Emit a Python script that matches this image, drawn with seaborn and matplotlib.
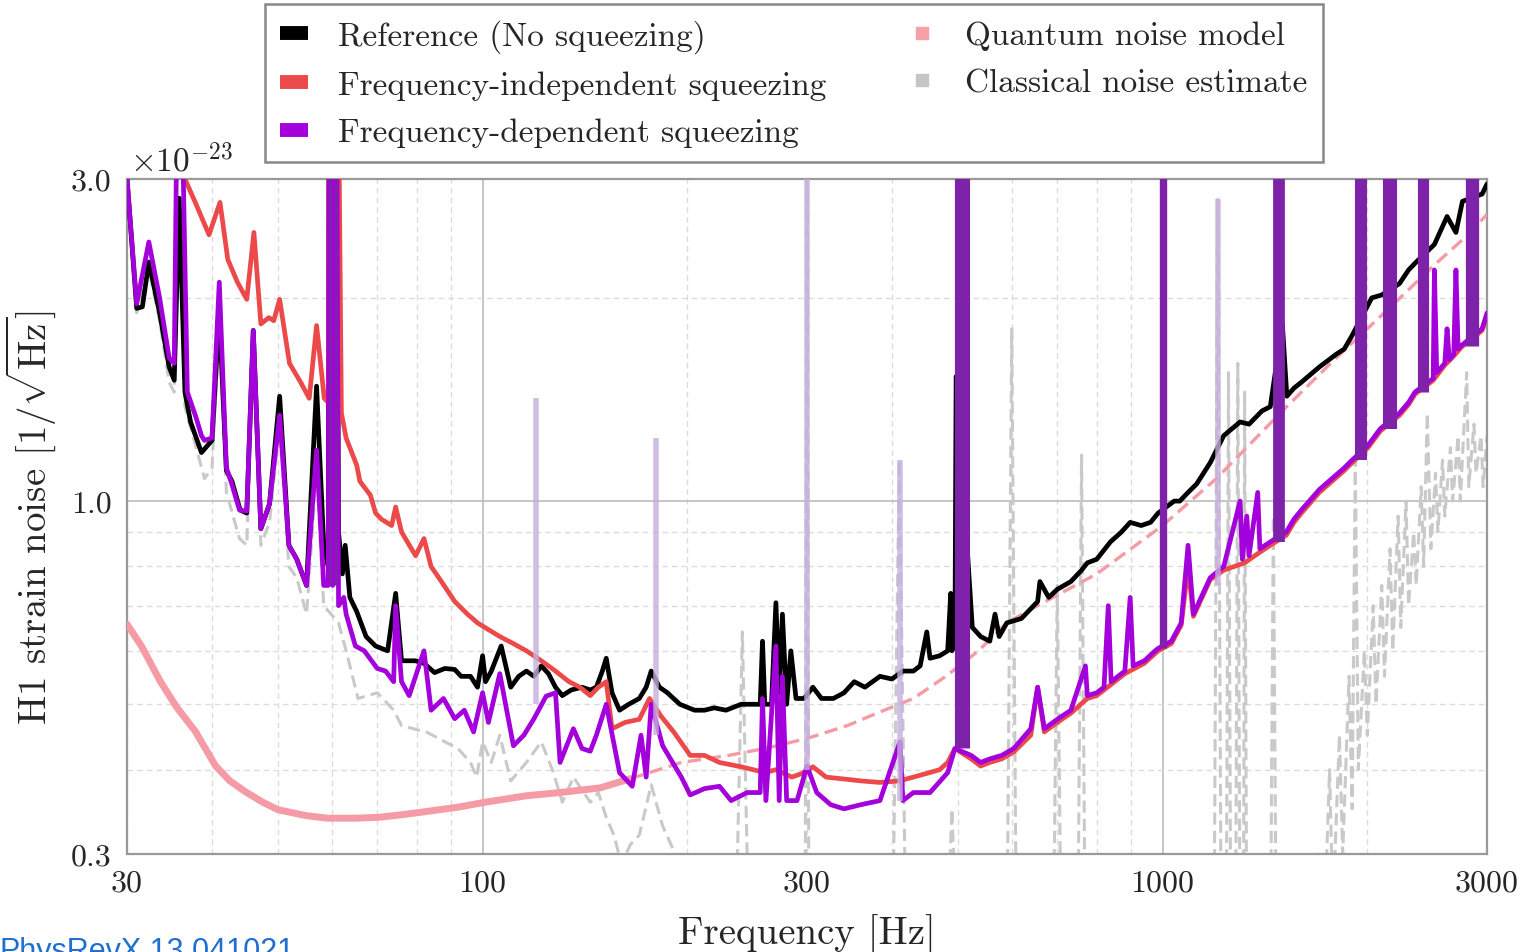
import numpy as np
import pandas as pd
import matplotlib
matplotlib.use("Agg")
import matplotlib.pyplot as plt
import seaborn as sns
from matplotlib.lines import Line2D
from matplotlib.ticker import FixedLocator, FixedFormatter, NullFormatter

# ---------------- data (frequency in Hz, strain in units of 1e-23 /sqrt(Hz)) ----------------
ref_f = [30, 31, 31.6, 32.3, 33.5, 34.6, 35.2, 35.8, 36.5, 37.2,
         38.6, 40.0, 41.0, 42.0, 42.8, 44.0, 45.0, 46.0, 47.2, 48.6,
         50.3, 51.9, 53.3, 55.1, 57.0, 58.4, 59.3, 59.6, 60.2, 60.8,
         61.4, 62.2, 62.8, 63.8, 65.3, 67.4, 69.6, 72.5, 74.5, 76,
         79.6, 82, 85, 88, 91, 93, 96, 98.3, 100, 101,
         103, 106.5, 110, 113, 116, 119, 122, 125, 128, 131,
         135, 140, 144, 147, 150, 152, 155, 159, 164, 170,
         174, 177, 182, 187, 195, 205, 212, 219, 228, 240,
         250, 256, 258, 260, 266, 270, 273, 276, 280, 284,
         289, 297, 306, 315, 328, 340, 352, 365, 384, 400,
         415, 430, 440, 450, 455, 470, 483, 488, 490, 495,
         497, 525, 540, 557, 567, 575, 590, 620, 655, 660,
         680, 700, 733, 760, 775, 800, 838, 870, 896, 930,
         960, 985, 1040, 1060, 1090, 1122, 1175, 1230, 1300, 1340,
         1400, 1440, 1500, 1523, 1560, 1600, 1700, 1800, 1850, 1900,
         2030, 2100, 2230, 2300, 2360, 2510, 2620, 2700, 2760, 2950,
         3000]
ref_v = [3.0, 1.93, 1.94, 2.26, 1.9, 1.58, 1.51, 2.81, 1.45, 1.31,
         1.18, 1.23, 1.9, 1.11, 1.07, 0.97, 0.96, 1.79, 0.91, 0.99,
         1.43, 0.86, 0.82, 0.75, 1.48, 0.86, 0.8, 12, 0.8, 12,
         0.9, 0.78, 0.86, 0.72, 0.686, 0.63, 0.61, 0.60, 0.73, 0.58,
         0.58, 0.575, 0.557, 0.565, 0.563, 0.55, 0.55, 0.53, 0.59, 0.54,
         0.56, 0.61, 0.53, 0.55, 0.56, 0.55, 0.57, 0.555, 0.53, 0.515,
         0.525, 0.53, 0.525, 0.53, 0.56, 0.585, 0.52, 0.49, 0.5, 0.51,
         0.53, 0.56, 0.53, 0.52, 0.5, 0.49, 0.49, 0.494, 0.49, 0.50,
         0.5, 0.5, 0.62, 0.5, 0.5, 0.707, 0.52, 0.68, 0.5, 0.6,
         0.51, 0.51, 0.53, 0.51, 0.51, 0.52, 0.54, 0.53, 0.55, 0.545,
         0.56, 0.56, 0.57, 0.64, 0.585, 0.59, 0.60, 0.73, 0.6, 0.62,
         1.53, 0.65, 0.63, 0.62, 0.68, 0.63, 0.66, 0.67, 0.71, 0.76,
         0.72, 0.74, 0.76, 0.79, 0.81, 0.82, 0.87, 0.9, 0.93, 0.92,
         0.93, 0.96, 1.0, 1.0, 1.03, 1.06, 1.14, 1.25, 1.31, 1.3,
         1.36, 1.38, 1.83, 1.43, 1.47, 1.5, 1.58, 1.65, 1.68, 1.76,
         2.0, 2.02, 2.1, 2.2, 2.26, 2.4, 2.64, 2.5, 2.78, 2.85,
         2.95]

fis_f = [35.5, 36.5, 37.8, 39.6, 41.1, 42.2, 43.6, 45, 46.1, 47.2,
         48.5, 49.3, 50.3, 52, 54, 55.6, 57, 58.5, 59.3, 59.6,
         60.2, 60.8, 62, 63, 65.3, 66, 68.4, 69.6, 71, 73.5,
         74.5, 76, 79.7, 82, 84, 86.6, 91, 95, 98.3, 102,
         106, 111, 116, 122, 128, 134, 139, 144, 148, 152,
         155, 162, 170, 176, 183, 191, 202, 212, 223, 240,
         250, 260, 270, 285, 295, 306, 320, 344, 360, 384,
         410, 430, 450, 470, 483, 495, 523, 540, 557, 580,
         604, 640, 655, 670, 700, 733, 775, 800, 840, 880,
         940, 985, 1030, 1065, 1090, 1110, 1175, 1230, 1320, 1390,
         1440, 1520, 1560, 1600, 1700, 1850, 1900, 2005, 2090, 2230,
         2300, 2350, 2500, 2600, 2680, 2750, 2950, 3000]
fis_v = [3.5, 3.0, 2.77, 2.48, 2.77, 2.28, 2.11, 1.99, 2.5, 1.83,
         1.87, 1.85, 1.99, 1.6, 1.5, 1.42, 1.82, 1.42, 1.4, 12,
         1.4, 12, 1.35, 1.24, 1.13, 1.07, 1.02, 0.96, 0.94, 0.92,
         0.98, 0.9, 0.83, 0.88, 0.8, 0.765, 0.71, 0.68, 0.66, 0.645,
         0.63, 0.615, 0.60, 0.58, 0.56, 0.54, 0.53, 0.515, 0.53, 0.54,
         0.46, 0.47, 0.475, 0.51, 0.48, 0.455, 0.42, 0.42, 0.41, 0.404,
         0.40, 0.396, 0.40, 0.39, 0.395, 0.404, 0.39, 0.387, 0.385, 0.383,
         0.385, 0.39, 0.395, 0.40, 0.41, 0.43, 0.415, 0.405, 0.41, 0.415,
         0.425, 0.45, 0.53, 0.455, 0.47, 0.485, 0.51, 0.515, 0.535, 0.555,
         0.575, 0.6, 0.615, 0.655, 0.8, 0.675, 0.765, 0.79, 0.81, 0.84,
         0.86, 0.89, 0.93, 0.96, 1.03, 1.11, 1.14, 1.2, 1.27, 1.34,
         1.39, 1.44, 1.51, 1.59, 1.64, 1.69, 1.79, 1.88]

fds_f = [30, 31, 32.3, 33.5, 34.6, 35.2, 35.5, 36.2, 36.8, 37.9,
         38.6, 39.0, 40, 41.0, 42, 42.7, 43.9, 45, 46, 47.2,
         48.6, 50.3, 51.9, 53.3, 55.1, 57, 58.4, 59.3, 59.6, 60.2,
         60.8, 61.4, 62.5, 63, 65, 67, 70, 72, 74, 74.5,
         76, 78, 82, 84, 87.6, 91, 94, 97, 100, 102,
         106, 111, 115, 119, 124, 128, 130, 136, 140, 144,
         147, 152, 159, 166, 171, 174, 177, 184, 196, 202,
         212, 223, 232, 245, 256, 258, 261, 270, 273, 276,
         280, 290, 300, 310, 325, 340, 360, 384, 411, 415,
         430, 455, 483, 495, 523, 540, 557, 580, 604, 640,
         655, 670, 700, 733, 770, 775, 800, 820, 832, 840,
         880, 896, 905, 940, 975, 985, 1030, 1065, 1090, 1110,
         1175, 1230, 1300, 1310, 1330, 1340, 1380, 1390, 1440, 1520,
         1560, 1600, 1700, 1850, 1900, 2005, 2090, 2230, 2300, 2350,
         2500, 2510, 2530, 2600, 2620, 2640, 2680, 2700, 2720, 2750,
         2950, 3000]
fds_v = [3.0, 1.96, 2.42, 2.0, 1.63, 1.6, 3.5, 3.5, 1.45, 1.33,
         1.25, 1.23, 1.24, 2.11, 1.12, 1.066, 0.97, 0.966, 1.79, 0.91,
         0.99, 1.34, 0.86, 0.82, 0.75, 1.19, 0.75, 0.75, 12, 0.75,
         12, 0.70, 0.72, 0.68, 0.61, 0.6, 0.565, 0.56, 0.54, 0.70,
         0.54, 0.515, 0.60, 0.49, 0.51, 0.476, 0.49, 0.455, 0.52, 0.47,
         0.555, 0.434, 0.45, 0.476, 0.514, 0.52, 0.41, 0.46, 0.43, 0.426,
         0.45, 0.50, 0.396, 0.378, 0.45, 0.39, 0.50, 0.434, 0.39, 0.367,
         0.375, 0.378, 0.36, 0.37, 0.37, 0.51, 0.36, 0.61, 0.36, 0.55,
         0.36, 0.36, 0.405, 0.37, 0.355, 0.35, 0.355, 0.36, 0.44, 0.36,
         0.37, 0.37, 0.396, 0.43, 0.42, 0.41, 0.415, 0.42, 0.43, 0.46,
         0.53, 0.46, 0.475, 0.49, 0.57, 0.515, 0.52, 0.53, 0.70, 0.54,
         0.56, 0.72, 0.57, 0.58, 0.60, 0.605, 0.62, 0.66, 0.86, 0.68,
         0.77, 0.8, 1.0, 0.82, 0.95, 0.83, 1.03, 0.85, 0.87, 0.90,
         0.94, 0.97, 1.04, 1.12, 1.15, 1.21, 1.28, 1.35, 1.4, 1.45,
         1.52, 2.2, 1.55, 1.6, 1.8, 1.62, 1.65, 2.2, 1.68, 1.7,
         1.8, 1.9]

# quantum noise model: low-frequency (solid) and high-frequency (dashed) parts
qn_lo_f = [30, 31.5, 33.6, 35.5, 37.8, 40.5, 42.5, 44.8, 47.5, 50, 55,
           59.2, 65, 70.3, 76, 83, 92, 100.9, 116, 130, 149, 165]
qn_lo_v = [0.657, 0.61, 0.54, 0.495, 0.456, 0.405, 0.385, 0.371, 0.358, 0.349, 0.342,
           0.339, 0.339, 0.340, 0.343, 0.347, 0.352, 0.358, 0.366, 0.37, 0.376, 0.388]
qn_hi_f = [165, 196, 230, 260, 300, 344, 380, 430, 480, 536, 590,
           655, 800, 1000, 1200, 1500, 1800, 2000, 2200, 2500, 2800, 3000]
qn_hi_v = [0.388, 0.41, 0.42, 0.43, 0.445, 0.465, 0.485, 0.51, 0.55, 0.6, 0.66,
           0.70, 0.78, 0.92, 1.08, 1.36, 1.63, 1.8, 1.97, 2.23, 2.47, 2.66]

# classical noise estimate
cl_f = [30, 31, 32.3, 33.5, 34.6, 35.2, 35.8, 36.5, 37.9, 39.0,
        40, 41, 42, 43.9, 45, 46, 47.2, 48.6, 50.3, 51.9,
        53.3, 55.1, 57, 58.4, 61.4, 63, 65.6, 70, 74, 76,
        83, 88, 92, 96, 98, 100, 103, 106, 110, 116,
        122, 127, 131, 136, 144, 148, 152, 156, 160, 165,
        170, 177, 184, 195, 205, 215, 235, 241, 247, 290,
        298, 300, 302, 310, 400, 410, 420, 480, 490, 500,
        590, 600, 610, 690, 700, 710, 750, 760, 770, 1000,
        1010, 1190, 1205, 1220, 1240, 1250, 1260, 1280, 1290, 1300,
        1315, 1320, 1330, 1440, 1455, 1470, 1650, 1700, 1720, 1760,
        1780, 1820, 1840, 1880, 1900, 1920, 1940, 1980, 2000, 2040,
        2060, 2100, 2120, 2160, 2180, 2220, 2240, 2280, 2300, 2340,
        2360, 2400, 2420, 2450, 2480, 2520, 2540, 2580, 2600, 2650,
        2670, 2720, 2740, 2800, 2820, 2870, 2890, 2940, 2960, 3000]
cl_v = [3.0, 1.9, 2.2, 1.85, 1.5, 1.45, 2.7, 1.38, 1.2, 1.08,
        1.12, 1.8, 1.03, 0.88, 0.86, 1.7, 0.86, 0.93, 1.3, 0.8,
        0.77, 0.68, 1.1, 0.7, 0.66, 0.6, 0.51, 0.52, 0.49, 0.465,
        0.454, 0.44, 0.43, 0.41, 0.39, 0.44, 0.41, 0.45, 0.385, 0.41,
        0.44, 0.397, 0.358, 0.39, 0.358, 0.37, 0.34, 0.32, 0.29, 0.31,
        0.32, 0.38, 0.33, 0.29, 0.26, 0.2, 0.2, 0.64, 0.2, 0.2,
        0.2, 3.5, 0.2, 0.2, 0.2, 1.15, 0.2, 0.2, 0.35, 0.2,
        0.2, 1.8, 0.2, 0.2, 0.75, 0.2, 0.2, 1.17, 0.2, 0.2,
        0.2, 0.2, 2.8, 0.2, 0.2, 1.55, 0.2, 0.2, 1.6, 0.2,
        0.2, 1.45, 0.2, 0.2, 0.95, 0.2, 0.2, 0.3, 0.2, 0.4,
        0.25, 0.45, 0.3, 0.55, 0.35, 1.15, 0.4, 0.6, 0.45, 0.7,
        0.5, 0.75, 0.55, 0.85, 0.6, 0.95, 0.65, 1.0, 0.7, 0.9,
        0.75, 1.05, 0.8, 1.35, 0.85, 1.1, 0.9, 1.15, 0.95, 1.2,
        1.0, 1.25, 1.0, 1.55, 1.05, 1.3, 1.1, 1.25, 1.05, 1.25]

# groups of lines that go off scale (frequency-dependent squeezing)
band_lo = [59.4, 60.6, 495, 990, 1453, 1917, 2110, 2366, 2785]
band_hi = [59.9, 61.1, 521, 1015, 1512, 1997, 2213, 2457, 2913]
band_base = [0.75, 0.75, 0.43, 0.605, 0.87, 1.15, 1.28, 1.45, 1.7]

# faint lines (reference run lines seen through)
faint_f = [120, 180, 300, 411, 1208]
faint_top = [1.42, 1.24, 3.5, 1.15, 2.8]
faint_base = [0.5, 0.45, 0.4, 0.36, 0.75]

labels = ["Reference (No squeezing)", "Frequency-independent squeezing",
          "Frequency-dependent squeezing", "Quantum noise model",
          "Classical noise estimate"]

# ---------------- style ----------------
sns.set_style("white")
plt.rcParams["font.family"] = ["cmr10", "DejaVu Serif"]
plt.rcParams["mathtext.fontset"] = "cm"
plt.rcParams["axes.formatter.use_mathtext"] = True
plt.rcParams["axes.unicode_minus"] = False

C_REF = "#000000"
C_FIS = "#EC4A4A"
C_FDS = "#A300DC"
C_BAND = "#7E22AA"
C_QN = "#F59BA5"
C_CL = "#C9C9C9"
C_FAINT = "#C6B0DD"

DPI = 100
fig = plt.figure(figsize=(15.23, 9.53), dpi=DPI)
ax = fig.add_axes([0.0834, 0.1028, 0.8930, 0.7083])
ax.set_xscale("log")
ax.set_yscale("log")
ax.set_xlim(30, 3000)
ax.set_ylim(0.3, 3.0)

common = dict(ax=ax, sort=False, estimator=None, legend=False)

sns.lineplot(x=cl_f, y=cl_v, color=C_CL, lw=2.2, linestyle=(0, (4, 2)), zorder=2, **common)
sns.lineplot(x=qn_lo_f, y=qn_lo_v, color=C_QN, lw=5.0, zorder=3, **common)
sns.lineplot(x=qn_hi_f, y=qn_hi_v, color=C_QN, lw=2.4, linestyle=(0, (4, 2)), zorder=3, **common)
sns.lineplot(x=ref_f, y=ref_v, color=C_REF, lw=3.4, zorder=4, **common)
sns.lineplot(x=fis_f, y=fis_v, color=C_FIS, lw=3.4, zorder=5, **common)
sns.lineplot(x=fds_f, y=fds_v, color=C_FDS, lw=3.4, zorder=6, **common)

# off-scale line groups drawn as thick vertical strokes whose width spans the group
for lo, hi, base in zip(band_lo, band_hi, band_base):
    fc = np.sqrt(lo * hi)
    px = ax.transData.transform([(lo, 1.0), (hi, 1.0)])[:, 0]
    width_pt = max(px[1] - px[0], 3.0) * 72.0 / DPI
    sns.lineplot(x=[fc, fc], y=[base, 12], color=C_BAND, lw=width_pt,
                 solid_capstyle="butt", zorder=7, **common)

for f0, top, base in zip(faint_f, faint_top, faint_base):
    sns.lineplot(x=[f0, f0], y=[base, top], color=C_FAINT, lw=4.0, alpha=0.8,
                 solid_capstyle="butt", zorder=8, **common)

# ---------------- axes decoration ----------------
ax.xaxis.set_major_locator(FixedLocator([30, 100, 300, 1000, 3000]))
ax.xaxis.set_major_formatter(FixedFormatter(["30", "100", "300", "1000", "3000"]))
ax.xaxis.set_minor_locator(FixedLocator([40, 50, 60, 70, 80, 90, 200, 400, 500,
                                         600, 700, 800, 900, 2000]))
ax.xaxis.set_minor_formatter(NullFormatter())
ax.yaxis.set_major_locator(FixedLocator([0.3, 1.0, 3.0]))
ax.yaxis.set_major_formatter(FixedFormatter(["0.3", "1.0", "3.0"]))
ax.yaxis.set_minor_locator(FixedLocator([0.4, 0.5, 0.6, 0.7, 0.8, 0.9, 2.0]))
ax.yaxis.set_minor_formatter(NullFormatter())

ax.grid(which="major", color="#bcbcbc", lw=1.2, ls="-", zorder=0)
ax.grid(which="minor", color="#dcdcdc", lw=1.0, ls=(0, (4, 3)), zorder=0)
for line, pos in zip(ax.xaxis.get_gridlines(), [30, 100, 300, 1000, 3000]):
    if pos in (30, 300, 3000):
        line.set_linestyle((0, (4, 3)))
        line.set_color("#dcdcdc")
        line.set_linewidth(1.0)
for line, pos in zip(ax.yaxis.get_gridlines(), [0.3, 1.0, 3.0]):
    if pos != 1.0:
        line.set_linestyle((0, (4, 3)))
        line.set_color("#dcdcdc")
ax.set_axisbelow(True)

for sp in ax.spines.values():
    sp.set_color("#999999")
    sp.set_linewidth(1.6)
ax.tick_params(which="major", direction="out", length=7, width=1.2, color="#555555",
               labelsize=23, pad=4)
ax.tick_params(which="minor", direction="out", length=4, width=1.0, color="#555555")

ax.set_xlabel("Frequency [Hz]", fontsize=28, labelpad=12)
ax.set_ylabel(r"H1 strain noise $[1/\sqrt{\mathrm{Hz}}]$", fontsize=28, labelpad=9)
ax.text(0.002, 1.004, r"$\times10^{-23}$", transform=ax.transAxes, fontsize=24,
        ha="left", va="bottom")

handles = [Line2D([], [], color=C_REF, lw=10, solid_capstyle="butt"),
           Line2D([], [], color=C_FIS, lw=10, solid_capstyle="butt"),
           Line2D([], [], color=C_FDS, lw=10, solid_capstyle="butt"),
           Line2D([], [], color="#F6A1AA", marker="s", ms=9, ls="none"),
           Line2D([], [], color="#C6C6C6", marker="s", ms=9, ls="none")]
leg = fig.legend(handles, labels, ncol=2, loc="upper left",
                 bbox_to_anchor=(265 / 1523, 1 - 5 / 953), fontsize=24,
                 frameon=True, fancybox=False, edgecolor="#888888",
                 framealpha=1.0, handlelength=0.85, handletextpad=0.88,
                 columnspacing=2.45, labelspacing=0.53, borderpad=0.45,
                 borderaxespad=0.0)
leg.get_frame().set_linewidth(1.8)

fig.text(0.0, 0.017, "PhysRevX.13.041021", color="#1F6FD1", fontsize=22,
         family="Liberation Sans", ha="left", va="top")

fig.savefig("out.png", dpi=DPI)
